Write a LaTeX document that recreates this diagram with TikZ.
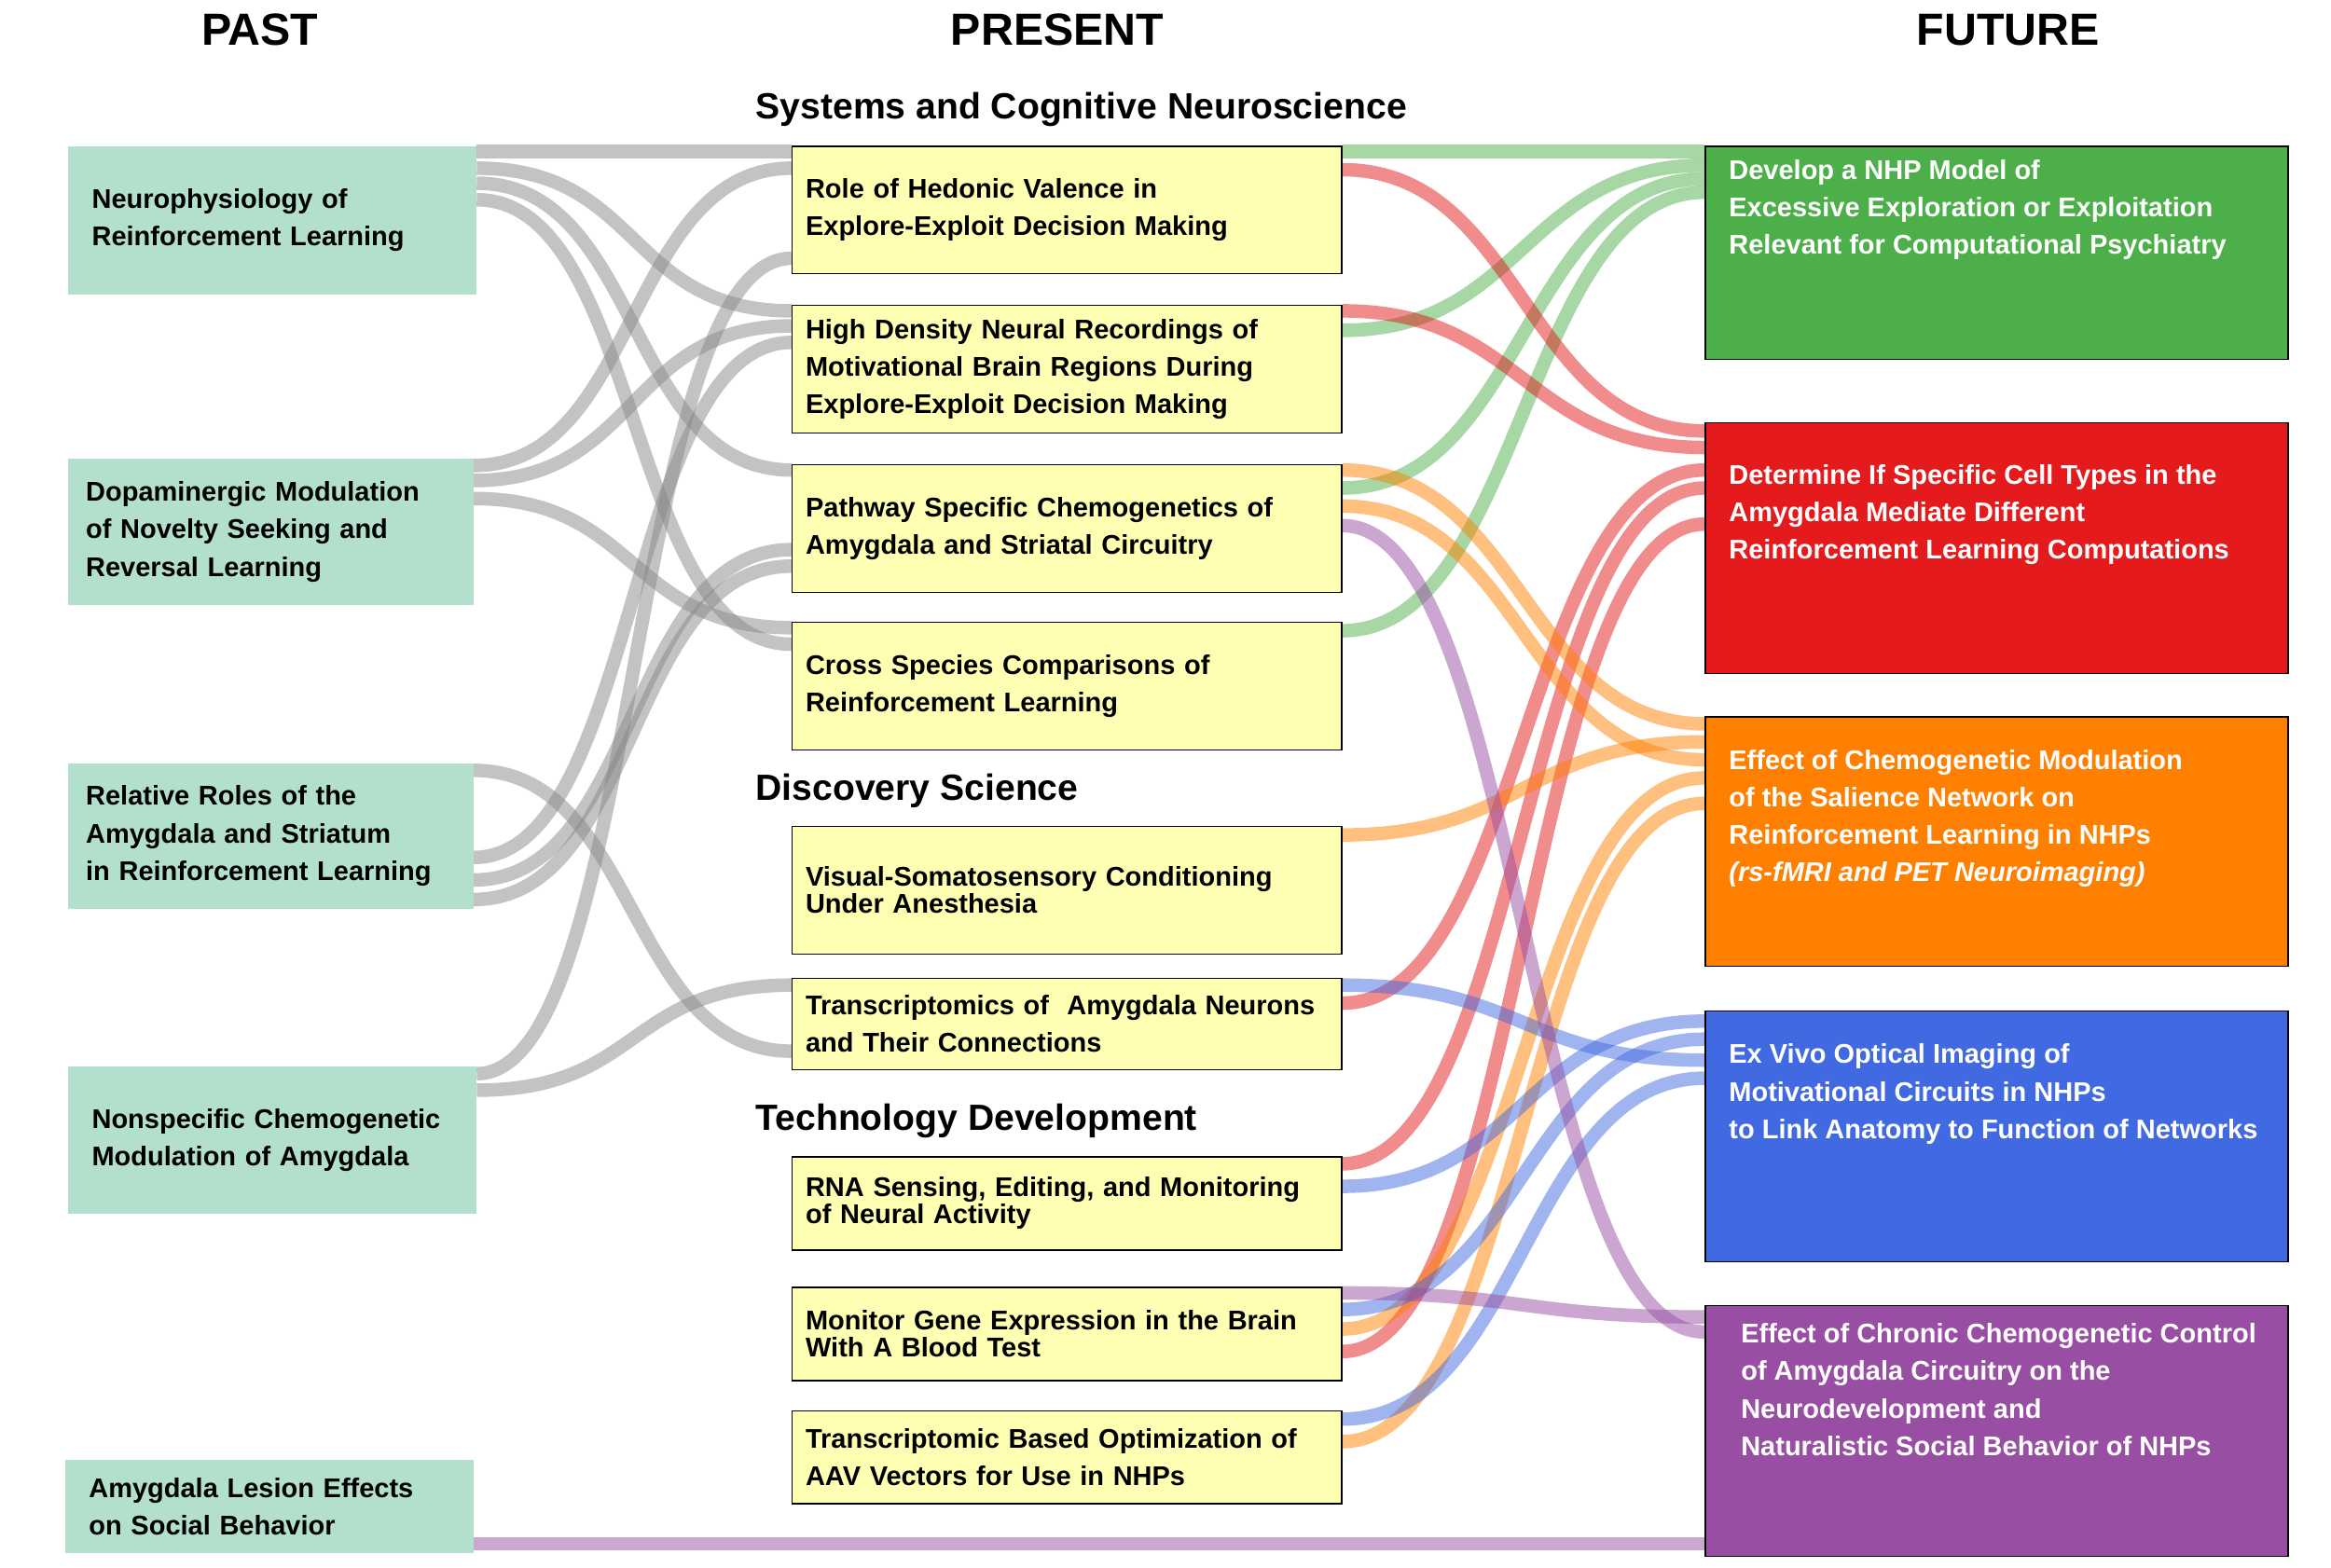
\documentclass[tikz,border=0pt]{standalone}
\usepackage{fontspec}
\setmainfont{Liberation Sans}
\usetikzlibrary{calc}
\pgfdeclarelayer{bg}\pgfsetlayers{bg,main}
\definecolor{pastc}{HTML}{B3E0CC}
\definecolor{presc}{HTML}{FFFFB3}
\definecolor{cgreen}{HTML}{4DAF4A}
\definecolor{cred}{HTML}{E41A1C}
\definecolor{corange}{HTML}{FF7F00}
\definecolor{cblue}{HTML}{4169E1}
\definecolor{cpurple}{HTML}{984EA3}
\newcommand\lk[6]{\draw[#1] (#2.east |- 0,#3) .. controls +(#6,0) and +(-#6,0) .. (#4.west |- 0,#5);}
\begin{document}
\begin{tikzpicture}[x=1pt,y=-1pt,
  every node/.style={font=\fontsize{18}{25}\selectfont\bfseries},
  past/.style={fill=pastc,draw=none,anchor=north west,minimum width=262,text width=240,align=left,inner xsep=16},
  pres/.style={fill=presc,draw=black,line width=0.8,anchor=north west,minimum width=366,text width=348,align=left,inner xsep=9},
  fut/.style={draw=black,line width=0.8,anchor=north west,minimum width=388},
  ftxt/.style={anchor=north west,text=white,align=left,inner sep=0},
  hdr/.style={font=\fontsize{30}{34}\selectfont\bfseries},
  sec/.style={font=\fontsize{24.3}{28}\selectfont\bfseries,anchor=base west,inner sep=0},
  link/.style={line width=9,draw opacity=0.5},
  g/.style={link,draw=black!47},
  gr/.style={link,draw=cgreen},
  rd/.style={link,draw=cred},
  or/.style={link,draw=corange},
  bl/.style={link,draw=cblue},
  pu/.style={link,draw=cpurple}]
\useasboundingbox (0,0) rectangle (1552,1044);
\node[hdr] (hp) at (173,20) {PAST};
\node[hdr] (hn) at (704,20) {PRESENT};
\node[hdr] (hf) at (1337,20) {FUTURE};
\node[sec] (s1) at (503,79) {Systems and Cognitive Neuroscience};
\node[sec] (s2) at (503,533) {Discovery Science};
\node[sec] (s3) at (503,753) {Technology Development};
% past
\node[past,minimum height=99] (P1) at (45,97) {Neurophysiology of\\Reinforcement Learning};
\node[past,minimum height=98,inner xsep=12,text width=246] (P2) at (45,305) {Dopaminergic Modulation\\of Novelty Seeking and\\Reversal Learning};
\node[past,minimum height=97,inner xsep=12,text width=246] (P3) at (45,508) {Relative Roles of the\\Amygdala and Striatum\\in Reinforcement Learning};
\node[past,minimum height=98] (P4) at (45,710) {Nonspecific Chemogenetic\\Modulation of Amygdala};
\node[past,minimum height=62] (P5) at (43,972) {Amygdala Lesion Effects\\on Social Behavior};
% present
\node[pres,minimum height=85] (S1) at (527,97) {Role of Hedonic Valence in\\Explore-Exploit Decision Making};
\node[pres,minimum height=85] (S2) at (527,203) {High Density Neural Recordings of\\Motivational Brain Regions During\\Explore-Exploit Decision Making};
\node[pres,minimum height=85] (S3) at (527,309) {Pathway Specific Chemogenetics of\\Amygdala and Striatal Circuitry};
\node[pres,minimum height=85] (S4) at (527,414) {Cross Species Comparisons of\\Reinforcement Learning};
\node[pres,minimum height=85] (S5) at (527,550) {Visual-Somatosensory Conditioning\\[-7pt]Under Anesthesia};
\node[pres,minimum height=61] (S6) at (527,651) {Transcriptomics of\ \ Amygdala Neurons\\and Their Connections};
\node[pres,minimum height=62] (S7) at (527,770) {RNA Sensing, Editing, and Monitoring\\[-7pt]of Neural Activity};
\node[pres,minimum height=62] (S8) at (527,857) {Monitor Gene Expression in the Brain\\[-7pt]With A Blood Test};
\node[pres,minimum height=62] (S9) at (527,939) {Transcriptomic Based Optimization of\\AAV Vectors for Use in NHPs};
% future
\node[fut,fill=cgreen,minimum height=142] (F1) at (1135,97) {};
\node[fut,fill=cred,minimum height=167] (F2) at (1135,281) {};
\node[fut,fill=corange,minimum height=166] (F3) at (1135,477) {};
\node[fut,fill=cblue,minimum height=167] (F4) at (1135,673) {};
\node[fut,fill=cpurple,minimum height=167] (F5) at (1135,869) {};
\node[ftxt] (T1) at (1151,106) {Develop a NHP Model of\\Excessive Exploration or Exploitation\\Relevant for Computational Psychiatry};
\node[ftxt] (T2) at (1151,309) {Determine If Specific Cell Types in the\\Amygdala Mediate Different\\Reinforcement Learning Computations};
\node[ftxt] (T3) at (1151,499) {Effect of Chemogenetic Modulation\\of the Salience Network on\\Reinforcement Learning in NHPs\\\itshape (rs-fMRI and PET Neuroimaging)};
\node[ftxt] (T4) at (1151,695) {Ex Vivo Optical Imaging of\\Motivational Circuits in NHPs\\to Link Anatomy to Function of Networks};
\node[ftxt] (T5) at (1159,881) {Effect of Chronic Chemogenetic Control\\of Amygdala Circuitry on the\\Neurodevelopment and\\Naturalistic Social Behavior of NHPs};
\begin{pgfonlayer}{bg}
\lk{g}{P1}{101}{S1}{101}{110}
\lk{g}{P1}{112}{S2}{207}{110}
\lk{g}{P1}{122}{S3}{313}{110}
\lk{g}{P1}{133}{S4}{429}{110}
\lk{g}{P2}{310}{S1}{112}{110}
\lk{g}{P2}{320}{S2}{217}{110}
\lk{g}{P2}{332}{S4}{418}{110}
\lk{g}{P3}{513}{S6}{700}{110}
\lk{g}{P3}{571}{S2}{228}{110}
\lk{g}{P3}{586}{S3}{366}{110}
\lk{g}{P3}{599}{S3}{377}{110}
\lk{g}{P4}{715}{S1}{172}{110}
\lk{g}{P4}{726}{S6}{656}{110}
\lk{gr}{S1}{101}{F1}{101}{120}
\lk{gr}{S2}{220}{F1}{110}{120}
\lk{gr}{S3}{325}{F1}{119}{120}
\lk{gr}{S4}{420}{F1}{128}{120}
\lk{rd}{S1}{113}{F2}{287}{120}
\lk{rd}{S2}{207}{F2}{298}{120}
\lk{rd}{S6}{668}{F2}{313}{120}
\lk{rd}{S7}{775}{F2}{325}{120}
\lk{rd}{S8}{900}{F2}{349}{120}
\lk{or}{S3}{313}{F3}{482}{120}
\lk{or}{S5}{556}{F3}{494}{120}
\lk{or}{S3}{337}{F3}{506}{120}
\lk{or}{S8}{885}{F3}{518}{120}
\lk{or}{S9}{960}{F3}{535}{120}
\lk{bl}{S7}{790}{F4}{680}{120}
\lk{bl}{S8}{872}{F4}{692}{120}
\lk{bl}{S6}{656}{F4}{706}{120}
\lk{bl}{S9}{945}{F4}{718}{120}
\lk{pu}{S8}{861}{F5}{877}{120}
\lk{pu}{S3}{350}{F5}{887}{120}
\lk{pu}{P5}{1028}{F5}{1028}{120}
\end{pgfonlayer}
\end{tikzpicture}
\end{document}
